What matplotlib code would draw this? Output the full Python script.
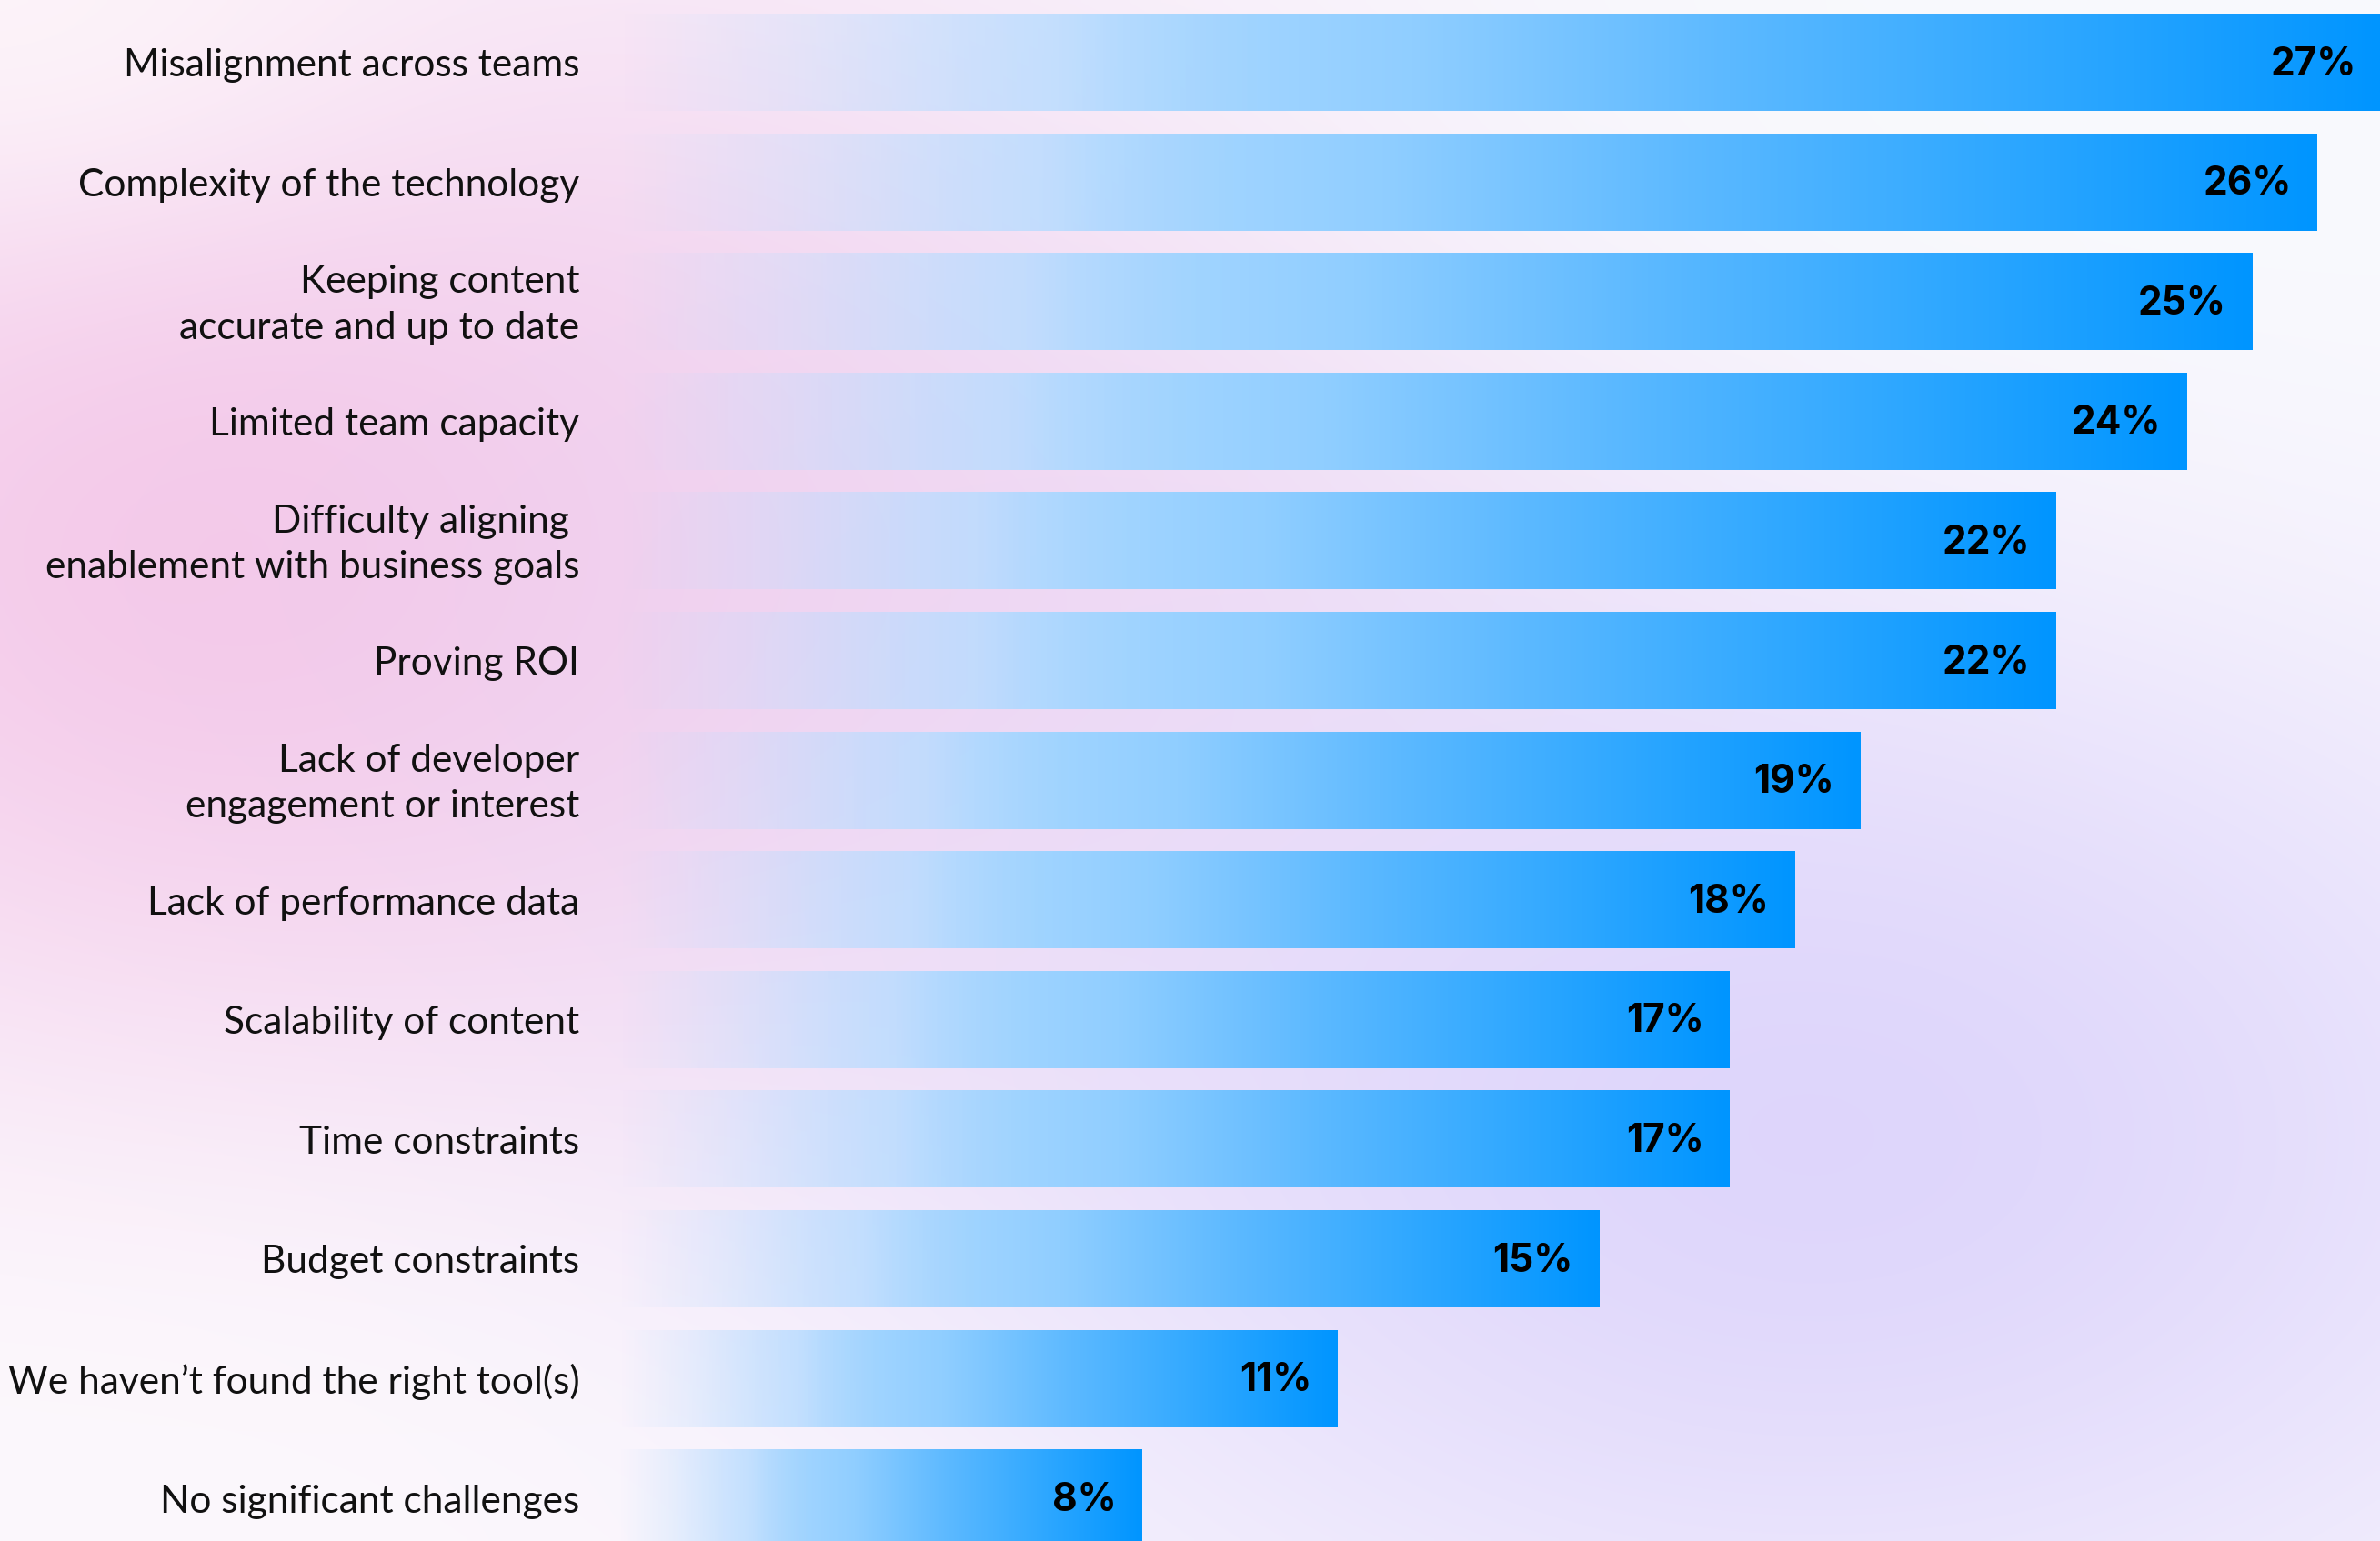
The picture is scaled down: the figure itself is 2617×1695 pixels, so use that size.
import numpy as np
import matplotlib.pyplot as plt
from matplotlib.colors import to_rgb

# survey answers, top to bottom
labels = [
    "Misalignment across teams",
    "Complexity of the technology",
    "Keeping content\naccurate and up to date",
    "Limited team capacity",
    "Difficulty aligning \nenablement with business goals",
    "Proving ROI",
    "Lack of developer\nengagement or interest",
    "Lack of performance data",
    "Scalability of content",
    "Time constraints",
    "Budget constraints",
    "We haven\u2019t found the right tool(s)",
    "No significant challenges",
]
values = [27, 26, 25, 24, 22, 22, 19, 18, 17, 17, 15, 11, 8]

W, H, DPI = 2617, 1695, 100
X0_PX, PX_PER_PCT = 681, 71.8      # where 0% sits and how wide 1% is
ROW_PX, FIRST_ROW_PX = 131.6, 68.5

fig = plt.figure(figsize=(W / DPI, H / DPI), dpi=DPI)

# soft pastel backdrop
bg = fig.add_axes([0, 0, 1, 1])
yy, xx = np.mgrid[0:H:5, 0:W:5].astype(float)
img = np.ones(xx.shape + (3,)) * np.array(to_rgb("#fcfafe"))


def blob(img, cx, cy, rx, ry, color, strength):
    d = ((xx - cx) / rx) ** 2 + ((yy - cy) / ry) ** 2
    w = (strength * np.exp(-d))[..., None]
    return img * (1 - w) + np.array(to_rgb(color)) * w


img = blob(img, 300, 600, 900, 620, "#f5c8e8", 1.0)
img = blob(img, 1100, 550, 800, 550, "#eed0f0", 0.6)
img = blob(img, 2000, 1250, 1000, 650, "#dbd2fb", 0.9)
img = blob(img, 2400, 100, 900, 420, "#f8fafd", 0.95)
img = blob(img, 0, 0, 450, 250, "#fdf6fa", 0.8)
img = blob(img, 100, 1700, 750, 380, "#fcf8fc", 0.85)
bg.imshow(np.clip(img, 0, 1), extent=[0, W, H, 0], aspect="auto",
          interpolation="bilinear")
bg.set_xlim(0, W)
bg.set_ylim(H, 0)
bg.axis("off")

ax = fig.add_axes([0, 0, 1, 1])
ax.patch.set_alpha(0)

# horizontal gradient for each bar: fades in from the left, deep blue at the end
n = 256
t = np.linspace(0, 1, n)
stops_t = [0.0, 0.25, 0.32, 0.45, 0.63, 0.8, 1.0]
stops_c = np.array([to_rgb(c) for c in
                    ["#c0e0ff", "#b8dcff", "#a6d6ff", "#90ceff",
                     "#5cb9ff", "#32a9ff", "#0095ff"]])
grad = np.zeros((1, n, 4))
for c in range(3):
    grad[0, :, c] = np.interp(t, stops_t, stops_c[:, c])
grad[0, :, 3] = np.interp(t, [0.0, 0.1, 0.2, 0.28, 0.36],
                          [0.0, 0.3, 0.68, 0.92, 1.0])

ypos = np.arange(len(values))
bars = ax.barh(ypos, values, height=0.813, color="none", edgecolor="none")
for b in bars:
    x0, y0 = b.get_x(), b.get_y()
    im = ax.imshow(grad, extent=[x0, x0 + b.get_width(), y0, y0 + b.get_height()],
                   aspect="auto", interpolation="bilinear", zorder=2)
    im.set_clip_path(b)

for y, lab, v in zip(ypos, labels, values):
    ax.text(-0.61, y + 0.03, lab, ha="right", va="center", fontsize=30.5,
            family="Lato", color="#111111", linespacing=1.4)
    ax.text(v - 0.39, y + 0.02, f"{v}%", ha="right", va="center",
            fontsize=30.5, family="Inter", fontweight="bold", color="black",
            zorder=3)

ax.set_xlim(-X0_PX / PX_PER_PCT, (W - X0_PX) / PX_PER_PCT)
ax.set_ylim((H - FIRST_ROW_PX) / ROW_PX, -FIRST_ROW_PX / ROW_PX)
ax.axis("off")

fig.savefig("out.png", dpi=DPI)
